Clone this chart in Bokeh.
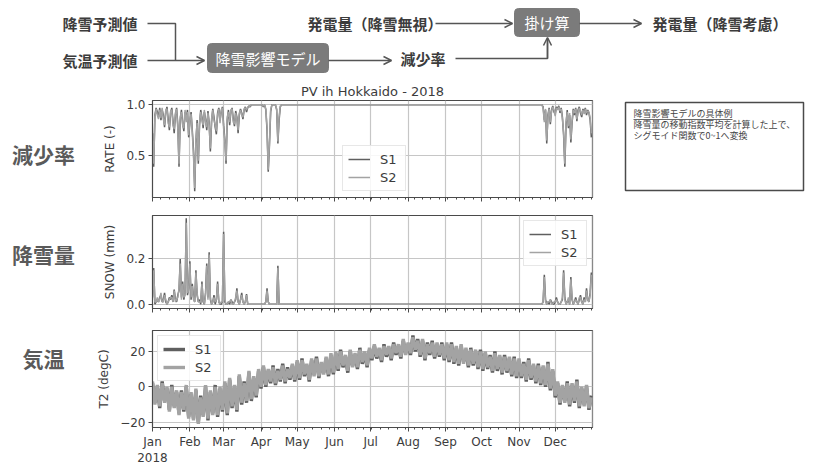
import numpy as np
import pandas as pd
from bokeh.plotting import figure
from bokeh.layouts import column, row
from bokeh.models import (Range1d, FixedTicker, Legend, LegendItem, Label, Arrow, OpenHead,
                          NumeralTickFormatter)
from bokeh.core.properties import value
from bokeh.embed import file_html
from bokeh.resources import INLINE

# ---------------- data ----------------
YEAR_START = "2018-01-01"
MONTHS = ["Jan", "Feb", "Mar", "Apr", "May", "Jun", "Jul", "Aug", "Sep", "Oct", "Nov", "Dec"]
SERIES = ["S1", "S2"]

# RATE (-) : daily values, Jan 1 .. Mar 24 (day 0..82)
RATE_S1_JM = [0.72, 0.39, 0.90, 0.97, 0.93, 0.88, 0.97, 0.85, 0.95, 0.90,
              0.78, 0.93, 0.98, 0.86, 0.75, 0.92, 0.97, 0.84, 0.72, 0.90,
              0.97, 0.80, 0.39, 0.85, 0.95, 0.82, 0.74, 0.93, 0.86, 0.95,
              0.68, 0.82, 0.93, 0.75, 0.55, 0.15, 0.62, 0.85, 0.42, 0.80,
              0.95, 0.88, 0.77, 0.93, 0.86, 0.75, 0.94, 0.82, 0.54, 0.83,
              0.96, 0.88, 0.78, 0.71, 0.92, 0.97, 0.85, 0.93, 0.98, 0.80,
              0.66, 0.42, 0.85, 0.95, 0.80, 0.93, 0.97, 0.86, 0.79, 0.94,
              0.88, 0.72, 0.90, 0.96, 0.92, 0.86, 0.95, 0.98, 0.93, 0.97,
              0.99, 0.98, 1.00]
RATE_S2_JM = [0.70, 0.42, 0.88, 0.96, 0.90, 0.86, 0.95, 0.87, 0.97, 0.86,
              0.80, 0.95, 0.96, 0.82, 0.78, 0.94, 0.95, 0.80, 0.76, 0.92,
              0.96, 0.76, 0.42, 0.88, 0.93, 0.80, 0.77, 0.95, 0.83, 0.93,
              0.70, 0.85, 0.91, 0.72, 0.50, 0.18, 0.66, 0.82, 0.45, 0.83,
              0.93, 0.85, 0.80, 0.95, 0.83, 0.78, 0.92, 0.80, 0.57, 0.86,
              0.95, 0.85, 0.80, 0.74, 0.90, 0.96, 0.82, 0.95, 0.97, 0.77,
              0.63, 0.45, 0.88, 0.93, 0.83, 0.95, 0.96, 0.83, 0.81, 0.92,
              0.86, 0.75, 0.92, 0.95, 0.90, 0.88, 0.96, 0.97, 0.95, 0.98,
              0.98, 0.99, 1.00]
RATE_APR_DAYS = [92, 94, 95, 96, 97, 98, 103, 104, 105, 106]
RATE_S1_APR = [0.98, 0.95, 0.75, 0.34, 0.60, 0.93, 0.95, 0.62, 0.85, 0.98]
RATE_S2_APR = [0.99, 0.96, 0.78, 0.36, 0.63, 0.95, 0.96, 0.64, 0.88, 0.99]
DEC_START = 322
RATE_S1_DEC = [1.00, 1.00, 0.98, 0.85, 0.95, 0.62, 0.90, 0.97, 0.81, 0.95,
               0.99, 0.93, 0.91, 0.98, 0.96, 0.99, 0.92, 0.97, 0.88, 0.70,
               0.39, 0.80, 0.95, 0.77, 0.90, 0.63, 0.82, 0.96, 0.90, 0.97,
               0.84, 0.95, 0.98, 0.92, 0.88, 0.96, 0.93, 0.97, 0.90, 0.95,
               0.92, 0.85, 0.68]
RATE_S2_DEC = [1.00, 1.00, 0.97, 0.83, 0.96, 0.65, 0.88, 0.96, 0.83, 0.94,
               0.98, 0.95, 0.89, 0.97, 0.95, 0.98, 0.94, 0.96, 0.86, 0.73,
               0.42, 0.83, 0.93, 0.79, 0.92, 0.66, 0.84, 0.95, 0.92, 0.96,
               0.86, 0.93, 0.97, 0.94, 0.90, 0.95, 0.91, 0.96, 0.92, 0.94,
               0.93, 0.87, 0.72]

# SNOW (mm) : daily values, Jan 1 .. Mar 24 (day 0..82)
SNOW_S1_JM = [0.03, 0.16, 0.00, 0.01, 0.02, 0.01, 0.03, 0.04, 0.01, 0.02,
              0.05, 0.01, 0.00, 0.01, 0.03, 0.02, 0.04, 0.01, 0.065, 0.02,
              0.01, 0.04, 0.06, 0.20, 0.03, 0.10, 0.02, 0.05, 0.38, 0.04,
              0.07, 0.19, 0.02, 0.09, 0.03, 0.01, 0.15, 0.04, 0.01, 0.02,
              0.00, 0.10, 0.01, 0.00, 0.05, 0.18, 0.03, 0.23, 0.02, 0.00,
              0.01, 0.04, 0.00, 0.02, 0.10, 0.01, 0.00, 0.00, 0.01, 0.32,
              0.01, 0.00, 0.00, 0.01, 0.00, 0.02, 0.01, 0.00, 0.01, 0.02,
              0.07, 0.01, 0.00, 0.02, 0.05, 0.01, 0.00, 0.01, 0.045, 0.00,
              0.00, 0.00, 0.00]
SNOW_S2_JM = [0.02, 0.15, 0.01, 0.01, 0.03, 0.01, 0.02, 0.05, 0.01, 0.01,
              0.04, 0.02, 0.00, 0.01, 0.02, 0.03, 0.03, 0.01, 0.06, 0.01,
              0.02, 0.03, 0.07, 0.18, 0.02, 0.09, 0.03, 0.04, 0.36, 0.05,
              0.06, 0.18, 0.03, 0.08, 0.02, 0.01, 0.14, 0.05, 0.01, 0.01,
              0.01, 0.09, 0.02, 0.00, 0.04, 0.17, 0.02, 0.22, 0.03, 0.00,
              0.01, 0.03, 0.01, 0.02, 0.09, 0.01, 0.00, 0.01, 0.01, 0.31,
              0.02, 0.00, 0.00, 0.01, 0.01, 0.02, 0.00, 0.00, 0.01, 0.03,
              0.06, 0.01, 0.00, 0.02, 0.04, 0.01, 0.00, 0.01, 0.04, 0.00,
              0.00, 0.00, 0.00]
SNOW_APR_DAYS = [94, 95, 96, 103, 104, 105]
SNOW_S1_APR = [0.01, 0.07, 0.01, 0.00, 0.17, 0.00]
SNOW_S2_APR = [0.01, 0.06, 0.01, 0.00, 0.16, 0.00]
SNOW_S1_DEC = [0.00, 0.00, 0.01, 0.13, 0.02, 0.00, 0.01, 0.00, 0.02, 0.01,
               0.00, 0.00, 0.01, 0.03, 0.01, 0.00, 0.00, 0.01, 0.02, 0.15,
               0.03, 0.00, 0.01, 0.02, 0.00, 0.12, 0.02, 0.00, 0.01, 0.03,
               0.01, 0.00, 0.02, 0.04, 0.01, 0.00, 0.03, 0.01, 0.07, 0.02,
               0.01, 0.05, 0.14]
SNOW_S2_DEC = [0.00, 0.00, 0.01, 0.12, 0.01, 0.00, 0.01, 0.01, 0.02, 0.00,
               0.00, 0.01, 0.01, 0.02, 0.01, 0.00, 0.00, 0.01, 0.03, 0.14,
               0.02, 0.00, 0.01, 0.03, 0.00, 0.11, 0.03, 0.00, 0.01, 0.02,
               0.01, 0.00, 0.03, 0.03, 0.01, 0.00, 0.02, 0.01, 0.06, 0.02,
               0.01, 0.04, 0.13]

# T2 (degC) : every second day, Jan 1 .. Dec 31
T2_STEP_DAYS = 2
T2_S1 = ([2, -9, 0, -12, 3, -8, -1, -13, 1, -11, -3, -15, -2, -14, 0, -17] +
         [-4, -18, -2, -20, -5, -16, 0, -19, -3, -15, 1, -17, -1, -14] +
         [2, -16, 4, -12, 0, -14, 6, -10, 3, -9, 8, -8, 5, -6, 9] +
         [-1, 11, 0, 9, 2, 12, 1, 10, 3, 13, 2, 11, 4, 12, 3] +
         [14, 4, 16, 6, 12, 3, 15, 7, 17, 5, 13, 8, 16, 6, 18, 7] +
         [19, 9, 21, 11, 17, 8, 20, 12, 18, 10, 22, 13, 19, 11, 21] +
         [15, 23, 16, 21, 14, 24, 17, 22, 15, 25, 18, 23, 16, 26, 19, 24] +
         [18, 29, 20, 27, 17, 26, 15, 25, 18, 26, 16, 24, 17, 25, 15] +
         [24, 14, 25, 13, 22, 12, 23, 14, 21, 11, 22, 12, 20, 10, 21] +
         [9, 19, 10, 18, 8, 20, 9, 17, 7, 18, 8, 16, 6, 17, 5] +
         [15, 5, 14, 3, 16, 4, 12, 2, 13, 1, 11, 0, 14, -2, 9] +
         [-6, 2, -10, 0, -8, 3, -11, 1, -9, 4, -12, -1, -10, 0, -13, -5])
T2_S2 = ([3, -10, 1, -11, 2, -9, 0, -14, 0, -12, -2, -16, -3, -13, 1, -18] +
         [-3, -19, -1, -21, -6, -17, 1, -18, -2, -16, 0, -16, 0, -13] +
         [3, -15, 5, -11, 1, -13, 7, -9, 2, -8, 9, -7, 6, -5, 10] +
         [0, 12, 1, 10, 3, 11, 2, 9, 4, 12, 3, 10, 5, 13, 4] +
         [15, 5, 15, 7, 13, 4, 16, 6, 16, 6, 14, 7, 17, 7, 19, 8] +
         [20, 10, 20, 12, 18, 9, 21, 11, 19, 11, 21, 14, 20, 12, 22] +
         [16, 24, 17, 22, 15, 23, 18, 23, 16, 24, 19, 24, 17, 27, 18, 25] +
         [19, 28, 21, 26, 18, 27, 16, 24, 19, 25, 17, 25, 18, 24, 16] +
         [25, 15, 24, 14, 23, 13, 24, 13, 22, 12, 21, 13, 21, 11, 20] +
         [10, 20, 11, 17, 9, 19, 10, 18, 8, 17, 9, 17, 7, 16, 6] +
         [16, 6, 13, 4, 15, 5, 13, 3, 12, 2, 12, 1, 13, -1, 10] +
         [-5, 3, -9, 1, -9, 2, -10, 2, -8, 3, -11, 0, -11, 1, -12, -6])

# ---------------- helpers ----------------
N_DAYS = 365
t0 = pd.Timestamp(YEAR_START)


def daily(base, jm, apr_days, apr_vals, dec):
    arr = np.full(N_DAYS, base, dtype=float)
    arr[0:len(jm)] = jm
    arr[np.array(apr_days)] = apr_vals
    arr[DEC_START:DEC_START + len(dec)] = dec
    return arr


day_x = t0 + pd.to_timedelta(np.arange(N_DAYS), unit="D")
t2_x = t0 + pd.to_timedelta(np.arange(len(T2_S1)) * T2_STEP_DAYS, unit="D")

rate1 = daily(1.0, RATE_S1_JM, RATE_APR_DAYS, RATE_S1_APR, RATE_S1_DEC)
rate2 = daily(1.0, RATE_S2_JM, RATE_APR_DAYS, RATE_S2_APR, RATE_S2_DEC)
snow1 = daily(0.0, SNOW_S1_JM, SNOW_APR_DAYS, SNOW_S1_APR, SNOW_S1_DEC)
snow2 = daily(0.0, SNOW_S2_JM, SNOW_APR_DAYS, SNOW_S2_APR, SNOW_S2_DEC)

JP = "Noto Sans CJK JP"
SANS = "DejaVu Sans"
C1 = "#5f5f5f"
C2 = "#a3a3a3"
AX = "#4a4a4a"
GRID = "#c6c6c6"
TXT = "#3c3c3c"


def ms(ts):
    return int(pd.Timestamp(ts).value // 10**6)


month_ticks = [ms(f"2018-{m:02d}-01") for m in range(1, 13)] + [ms("2019-01-01")]
minor_ticks = [ms(t0 + pd.Timedelta(days=7 * k)) for k in range(53)]
label_over = {month_ticks[i]: MONTHS[i] for i in range(12)}
label_over[month_ticks[0]] = "Jan\n2018"
label_over[month_ticks[12]] = ""
blank_over = {t: "" for t in month_ticks}

xr = Range1d(start=t0, end=t0 + pd.Timedelta(hours=365 * 24 - 1))

PW = 508
BL = 60


def panel(h, top, bottom, yr, yticks, ylabel, show_x, fmt=None):
    p = figure(width=PW, height=h, x_axis_type="datetime", x_range=xr, y_range=yr,
               output_backend="svg", toolbar_location=None,
               min_border_left=BL, min_border_right=8, min_border_top=top, min_border_bottom=bottom)
    p.outline_line_color = AX
    p.outline_line_width = 1.2
    xa = p.xaxis[0]
    xa.ticker = FixedTicker(ticks=month_ticks, minor_ticks=minor_ticks)
    xa.major_tick_out = 4
    xa.major_tick_in = 0
    xa.minor_tick_out = 2
    xa.minor_tick_in = 0
    xa.axis_line_color = AX
    xa.major_tick_line_color = AX
    xa.minor_tick_line_color = AX
    xa.major_label_text_font = SANS
    xa.major_label_text_color = TXT
    if show_x:
        xa.major_label_overrides = label_over
        xa.major_label_text_font_size = "12px"
        xa.major_label_standoff = 3
    else:
        xa.major_label_overrides = blank_over
        xa.major_label_text_font_size = "1px"
        xa.major_label_standoff = 0
    ya = p.yaxis[0]
    ya.ticker = FixedTicker(ticks=yticks, minor_ticks=[])
    if fmt:
        ya.formatter = NumeralTickFormatter(format=fmt)
    ya.major_tick_out = 4
    ya.major_tick_in = 0
    ya.minor_tick_out = 0
    ya.axis_line_color = AX
    ya.major_tick_line_color = AX
    ya.major_label_text_font = SANS
    ya.major_label_text_font_size = "12px"
    ya.major_label_text_color = TXT
    ya.major_label_standoff = 3
    ya.axis_label = ylabel
    ya.axis_label_text_font = SANS
    ya.axis_label_text_font_size = "12px"
    ya.axis_label_text_font_style = "normal"
    ya.axis_label_text_color = TXT
    ya.axis_label_standoff = 6
    p.xgrid.ticker = FixedTicker(ticks=month_ticks)
    p.ygrid.ticker = FixedTicker(ticks=yticks)
    p.grid.grid_line_color = GRID
    p.grid.grid_line_width = 1.2
    return p


def add_legend(p, r1, r2, location):
    lg = Legend(items=[LegendItem(label=SERIES[0], renderers=[r1]),
                       LegendItem(label=SERIES[1], renderers=[r2])],
                location=location)
    lg.label_text_font = SANS
    lg.label_text_font_size = "13px"
    lg.label_text_color = TXT
    lg.glyph_width = 22
    lg.glyph_height = 16
    lg.label_height = 16
    lg.label_standoff = 10
    lg.padding = 5
    lg.spacing = 2
    lg.margin = 5
    lg.border_line_color = "#d0d0d0"
    lg.border_line_width = 1
    lg.background_fill_alpha = 0.85
    p.add_layout(lg)
    return lg


# RATE panel
p_rate = panel(126, 20, 9, Range1d(0.087, 1.043), [0.5, 1.0], "RATE (-)", False, "0.0")
p_rate.title.text = "PV ih Hokkaido - 2018"
p_rate.title.align = "center"
p_rate.title.text_font = SANS
p_rate.title.text_font_size = "13px"
p_rate.title.text_font_style = "normal"
p_rate.title.text_color = TXT
p_rate.title.standoff = 3
r1 = p_rate.line(day_x, rate1, line_color=C1, line_width=1.5)
r2 = p_rate.line(day_x, rate2, line_color=C2, line_width=1.5)
add_legend(p_rate, r1, r2, (190, 6))

# SNOW panel
p_snow = panel(111, 9, 9, Range1d(-0.019, 0.392), [0.0, 0.2], "SNOW (mm)", False, "0.0")
s1 = p_snow.line(day_x, snow1, line_color=C1, line_width=1.5)
s2 = p_snow.line(day_x, snow2, line_color=C2, line_width=1.5)
add_legend(p_snow, s1, s2, "top_right")

# T2 panel
p_t2 = panel(158, 13, 48, Range1d(-23.0, 31.8), [-20, 0, 20], "T2 (degC)", True)
p_t2.yaxis[0].major_label_overrides = {-20: "\u221220"}
t1 = p_t2.line(t2_x, T2_S1, line_color=C1, line_width=3.4)
t2 = p_t2.line(t2_x, T2_S2, line_color=C2, line_width=3.4)
add_legend(p_t2, t1, t2, "top_left")
p_t2.add_layout(Label(x=t0 + pd.Timedelta(days=182), y=-46, x_units="data", y_units="screen",
                      text="IST", text_align="center", text_baseline="bottom",
                      text_font=SANS, text_font_size="11px", text_color=TXT))


def canvas(w, h):
    c = figure(width=w, height=h, x_range=Range1d(0, w), y_range=Range1d(h, 0),
               output_backend="svg", toolbar_location=None,
               x_axis_location=None, y_axis_location=None,
               min_border=0, min_border_left=0, min_border_right=0,
               min_border_top=0, min_border_bottom=0)
    c.grid.visible = False
    c.outline_line_color = None
    return c


# ---------------- top diagram (0..819 x 0..80) ----------------
top = canvas(819, 80)
LC = "#555555"
BOXC = "#7b7b7b"
txt_kw = dict(text_font=value(JP), text_font_style="bold", text_font_size="15px",
              text_color=TXT, text_baseline="middle")
top.text(x=[137, 137], y=[23, 60], text=["降雪予測値", "気温予測値"], text_align="right", **txt_kw)
top.text(x=[307, 652, 400], y=[23, 23, 58],
         text=["発電量（降雪無視）", "発電量（降雪考慮）", "減少率"], text_align="left", **txt_kw)
top.line(x=[147, 175, 175], y=[23, 23, 60], line_color=LC, line_width=1.5)
top.line(x=[455, 547, 547], y=[58, 58, 38], line_color=LC, line_width=1.5)
for (xs, ys, xe, ye) in [(147, 60, 204, 60), (328, 60, 391, 60), (435, 23, 512, 23),
                         (579, 23, 641, 23), (547, 58, 547, 37)]:
    top.add_layout(Arrow(end=OpenHead(size=8, line_color=LC, line_width=1.5),
                         x_start=xs, y_start=ys, x_end=xe, y_end=ye,
                         line_color=LC, line_width=1.5))
top.quad(left=[207, 514], right=[328, 579], top=[43, 8], bottom=[72, 36],
         fill_color=BOXC, line_color=BOXC, border_radius=4)
top.text(x=[267.5, 546.5], y=[57.5, 22], text=["降雪影響モデル", "掛け算"],
         text_align="center", text_baseline="middle", text_font=value(JP),
         text_font_size="15px", text_color="white")

# ---------------- left labels (0..92 x 80..475) ----------------
left = canvas(92, 395)
left.text(x=[43, 43, 43], y=[73, 173, 277], text=["減少率", "降雪量", "気温"],
          text_align="center", text_baseline="middle", text_font=value(JP),
          text_font_style="bold", text_font_size="21px", text_color="#5a5a5a")

# ---------------- right annotation (600..819 x 80..475) ----------------
right = canvas(219, 395)
right.quad(left=[25], right=[203], top=[22], bottom=[110], fill_color="white",
           line_color="#4a4a4a", line_width=1.5)
right.text(x=[33, 33, 33], y=[33, 44, 55],
           text=["降雪影響モデルの具体例", "降雪量の移動指数平均を計算した上で、", "シグモイド関数で0~1へ変換"],
           text_align="left", text_baseline="middle", text_font=value(JP),
           text_font_size="9px", text_color="#444444")
right.line(x=[33, 132], y=[39, 39], line_color="#444444", line_width=0.8)

layout = column(top,
                row(left, column(p_rate, p_snow, p_t2, spacing=0), right, spacing=0),
                spacing=0)

open("out.html", "w").write(file_html(layout, INLINE))
